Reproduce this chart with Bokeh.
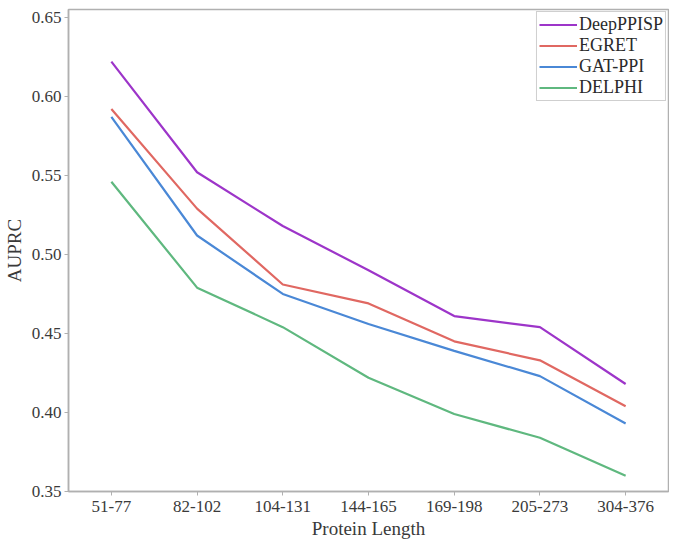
from bokeh.plotting import figure
from bokeh.models import Legend, LegendItem, FixedTicker, Range1d, CustomJSTickFormatter
from bokeh.embed import file_html
from bokeh.resources import INLINE

categories = ["51-77", "82-102", "104-131", "144-165", "169-198", "205-273", "304-376"]
deepppisp = [0.622, 0.552, 0.518, 0.490, 0.461, 0.454, 0.418]
egret = [0.592, 0.529, 0.481, 0.469, 0.445, 0.433, 0.404]
gatppi = [0.587, 0.512, 0.475, 0.456, 0.439, 0.423, 0.393]
delphi = [0.546, 0.479, 0.454, 0.422, 0.399, 0.384, 0.360]
series_names = ["DeepPPISP", "EGRET", "GAT-PPI", "DELPHI"]
colors = ["#9d35c9", "#e06862", "#4a88d6", "#5fb87f"]
y_ticks = [0.35, 0.40, 0.45, 0.50, 0.55, 0.60, 0.65]

FONT = "Liberation Serif"

p = figure(width=669, height=541, x_range=Range1d(-0.5, 6.5), y_range=Range1d(0.35, 0.655),
           output_backend="svg", toolbar_location=None,
           min_border_left=0, min_border_right=1, min_border_top=9, min_border_bottom=0)

xs = list(range(len(categories)))
items = []
for name, vals, c in zip(series_names, [deepppisp, egret, gatppi, delphi], colors):
    r = p.line(xs, vals, line_color=c, line_width=2.2)
    items.append(LegendItem(label=name, renderers=[r]))

p.xgrid.visible = False
p.ygrid.visible = False
p.outline_line_color = "#b0b0b0"
p.outline_line_width = 1.5

p.xaxis.ticker = FixedTicker(ticks=xs)
p.xaxis.major_label_overrides = {i: c for i, c in enumerate(categories)}
p.yaxis.ticker = FixedTicker(ticks=y_ticks)
p.yaxis.formatter = CustomJSTickFormatter(code="return tick.toFixed(2);")

for ax in (p.xaxis[0], p.yaxis[0]):
    ax.axis_line_color = "#b0b0b0"
    ax.axis_line_width = 1.5
    ax.major_tick_line_color = "#b0b0b0"
    ax.major_tick_out = 4
    ax.major_tick_in = 0
    ax.minor_tick_line_color = None
    ax.major_label_text_font = FONT
    ax.major_label_text_font_size = "17px"
    ax.major_label_text_color = "#3a3a3a"
    ax.axis_label_text_font = FONT
    ax.axis_label_text_font_size = "19px"
    ax.axis_label_text_font_style = "normal"
    ax.axis_label_text_color = "#3a3a3a"

p.xaxis.axis_label = "Protein Length"
p.yaxis.axis_label = "AUPRC"
p.xaxis.major_label_standoff = 5
p.xaxis.axis_label_standoff = 3
p.yaxis.major_label_standoff = 3
p.yaxis.axis_label_standoff = 4

legend = Legend(items=items, location="top_right")
legend.label_text_font = FONT
legend.label_text_font_size = "18px"
legend.label_text_color = "#2a2a2a"
legend.glyph_width = 38
legend.glyph_height = 19
legend.label_height = 19
legend.spacing = 0
legend.padding = 2
legend.margin = 2
legend.label_standoff = 2
legend.border_line_color = "#a0a0a0"
legend.border_line_width = 1.5
legend.background_fill_alpha = 1.0
p.add_layout(legend)

open("out.html", "w").write(file_html(p, INLINE))
